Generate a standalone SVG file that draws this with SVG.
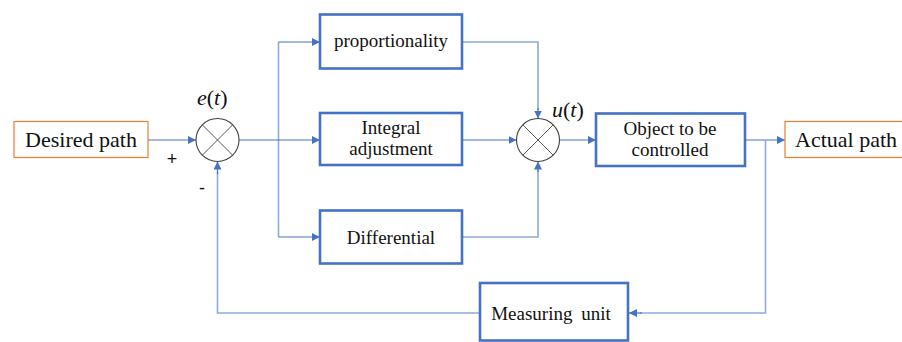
<svg xmlns="http://www.w3.org/2000/svg" width="902" height="342" viewBox="0 0 902 342">
  <defs>
    <marker id="arrow" viewBox="0 0 10 10" refX="10" refY="5" markerWidth="8" markerHeight="8" markerUnits="userSpaceOnUse" orient="auto">
      <path d="M0,0 L10,5 L0,10 z" fill="#4472C4"/>
    </marker>
    <style>
      .block { fill: #ffffff; stroke: #4472C4; stroke-width: 2.6; }
      .io { fill: #ffffff; stroke: #ED7D31; stroke-width: 1.2; }
      .sum { fill: #ffffff; stroke: #404040; stroke-width: 1.1; }
      .cross { stroke: #595959; stroke-width: 1; }
      .wire { fill: none; stroke: #4472C4; stroke-width: 1.2; }
      .tap { fill: none; stroke: #8FAADC; stroke-width: 1.6; }
      .lbl { fill: #111111; font-family: 'Liberation Serif', 'Times New Roman', serif; font-size: 19px; }
      .big { font-size: 22px; }
      .sign { fill: #111111; font-family: 'Liberation Sans', Arial, sans-serif; font-size: 18px; }
      .mid { text-anchor: middle; }
    </style>
  </defs>

  <rect width="902" height="342" fill="#ffffff"/>

  <!-- signal lines -->
  <g id="connectors">
    <path class="wire" d="M148,140 H196" marker-end="url(#arrow)"/>
    <path class="tap" d="M278.5,42 V237"/>
    <path class="wire" d="M239,140 H320" marker-end="url(#arrow)"/>
    <path class="wire" d="M278.5,42 H320" marker-end="url(#arrow)"/>
    <path class="wire" d="M278.5,237 H320" marker-end="url(#arrow)"/>
    <path class="tap" d="M462,42 H538 V110"/>
    <path class="wire" d="M538,108 V118.5" marker-end="url(#arrow)"/>
    <path class="wire" d="M462,140 H516.5" marker-end="url(#arrow)"/>
    <path class="tap" d="M462,237 H538 V170"/>
    <path class="wire" d="M538,172 V161.5" marker-end="url(#arrow)"/>
    <path class="wire" d="M559.5,140 H596" marker-end="url(#arrow)"/>
    <path class="wire" d="M745,140 H785" marker-end="url(#arrow)"/>
    <path class="tap" d="M765.5,140 V313 H640"/>
    <path class="wire" d="M642,313 H629" marker-end="url(#arrow)"/>
    <path class="tap" d="M480,313 H217.5 V172"/>
    <path class="wire" d="M217.5,174 V161.5" marker-end="url(#arrow)"/>
  </g>

  <!-- input -->
  <g id="desired-path">
    <rect class="io" x="14" y="121.5" width="134" height="36"/>
    <text class="lbl big mid" x="81" y="147">Desired path</text>
  </g>

  <!-- error summing junction -->
  <g id="sum-error">
    <circle class="sum" cx="217.5" cy="140" r="21.5"/>
    <path class="cross" d="M202.3,124.8 L232.7,155.2 M232.7,124.8 L202.3,155.2"/>
    <text class="lbl big" x="197" y="105"><tspan font-style="italic">e</tspan>(<tspan font-style="italic">t</tspan>)</text>
    <text class="sign mid" x="172" y="165">+</text>
    <text class="sign mid" x="202" y="194">-</text>
  </g>

  <!-- controller branches -->
  <g id="proportionality">
    <rect class="block" x="320" y="14.5" width="142" height="54"/>
    <text class="lbl mid" x="391" y="47">proportionality</text>
  </g>

  <g id="integral">
    <rect class="block" x="320" y="113" width="142" height="52"/>
    <text class="lbl mid" x="391" y="134">Integral</text>
    <text class="lbl mid" x="391" y="155">adjustment</text>
  </g>

  <g id="differential">
    <rect class="block" x="320" y="210.5" width="142" height="53"/>
    <text class="lbl mid" x="391" y="243.5">Differential</text>
  </g>

  <!-- control summing junction -->
  <g id="sum-control">
    <circle class="sum" cx="538" cy="140" r="21.5"/>
    <path class="cross" d="M522.8,124.8 L553.2,155.2 M553.2,124.8 L522.8,155.2"/>
    <text class="lbl big" x="552" y="117"><tspan font-style="italic">u</tspan>(<tspan font-style="italic">t</tspan>)</text>
  </g>

  <!-- plant -->
  <g id="plant">
    <rect class="block" x="596" y="113.5" width="149" height="52.5"/>
    <text class="lbl mid" x="670" y="135">Object to be</text>
    <text class="lbl mid" x="670" y="156">controlled</text>
  </g>

  <!-- output -->
  <g id="actual-path">
    <rect class="io" x="785" y="121.5" width="130" height="36"/>
    <text class="lbl big" x="795" y="147">Actual path</text>
  </g>

  <!-- feedback sensor -->
  <g id="measuring-unit">
    <rect class="block" x="480" y="283" width="148" height="57.5"/>
    <text class="lbl mid" x="551" y="319.5" word-spacing="4">Measuring unit</text>
  </g>
</svg>
